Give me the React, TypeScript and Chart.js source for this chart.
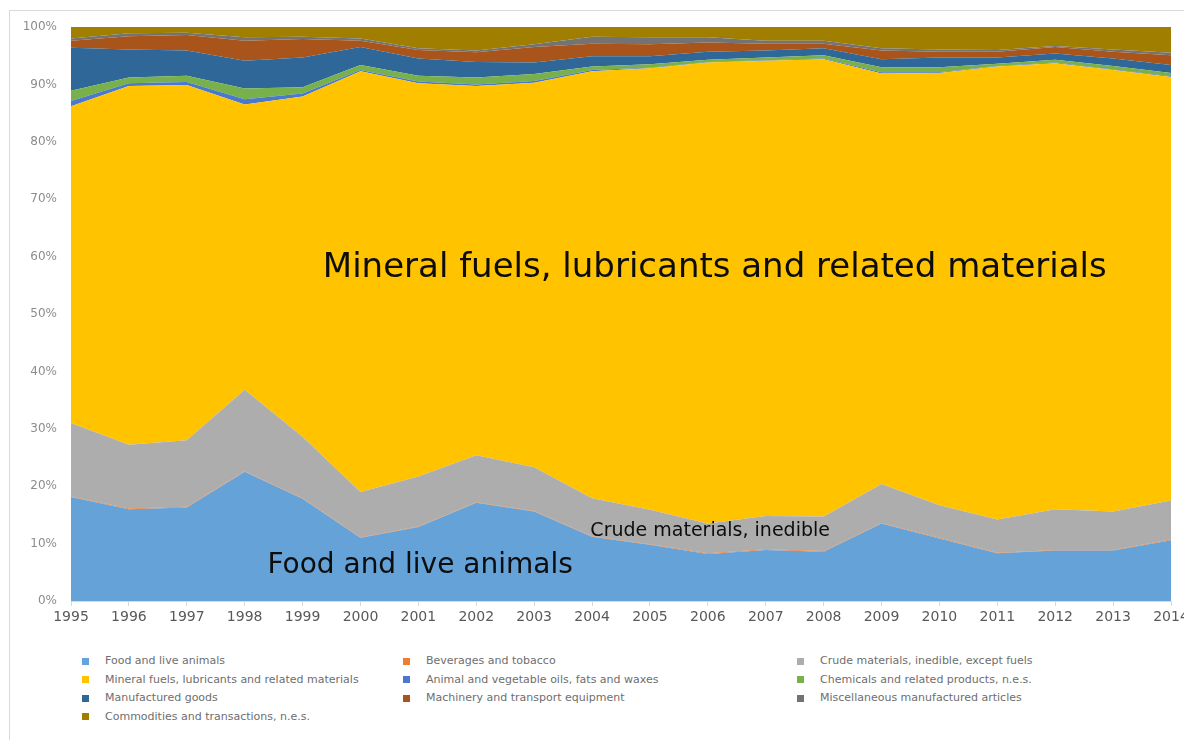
import { useEffect, useRef } from "react";
import { Chart, registerables } from "chart.js";

Chart.register(...registerables);

const years = ["1995", "1996", "1997", "1998", "1999", "2000", "2001", "2002", "2003", "2004", "2005", "2006", "2007", "2008", "2009", "2010", "2011", "2012", "2013", "2014"];

const seriesNames = [
  "Food and live animals",
  "Beverages and tobacco",
  "Crude materials, inedible, except fuels",
  "Mineral fuels, lubricants and related materials",
  "Animal and vegetable oils, fats and waxes",
  "Chemicals and related products, n.e.s.",
  "Manufactured goods",
  "Machinery and transport equipment",
  "Miscellaneous manufactured articles",
  "Commodities and transactions, n.e.s.",
];

const food = [18.1, 16.0, 16.3, 22.5, 17.8, 11.0, 12.9, 17.1, 15.6, 11.2, 9.8, 8.2, 8.9, 8.6, 13.5, 10.9, 8.3, 8.8, 8.8, 10.6];
const beverages = [0.1, 0.1, 0.1, 0.1, 0.1, 0.1, 0.1, 0.1, 0.1, 0.1, 0.1, 0.1, 0.1, 0.1, 0.1, 0.1, 0.1, 0.1, 0.1, 0.1];
const crude = [12.8, 11.1, 11.6, 14.2, 10.7, 7.9, 8.7, 8.2, 7.6, 6.6, 6.0, 5.2, 5.8, 6.0, 6.8, 5.7, 5.8, 7.1, 6.7, 6.8];
const mineral = [55.2, 62.5, 61.9, 49.7, 59.3, 73.3, 68.5, 64.3, 67.0, 74.4, 76.9, 80.3, 79.3, 79.7, 71.5, 75.3, 78.9, 77.7, 76.9, 73.8];
const oils = [0.9, 0.5, 0.5, 0.9, 0.5, 0.2, 0.3, 0.3, 0.3, 0.2, 0.1, 0.1, 0.1, 0.1, 0.2, 0.1, 0.1, 0.1, 0.1, 0.1];
const chemicals = [1.8, 1.0, 1.1, 1.9, 1.1, 0.9, 1.0, 1.2, 1.2, 0.6, 0.6, 0.4, 0.5, 0.6, 0.9, 0.9, 0.4, 0.5, 0.6, 0.6];
const manufactured = [7.5, 4.9, 4.4, 4.8, 5.2, 3.1, 3.0, 2.7, 2.0, 1.8, 1.4, 1.4, 1.2, 1.2, 1.4, 1.7, 1.1, 1.1, 1.3, 1.4];
const machinery = [1.2, 2.3, 2.7, 3.5, 3.2, 1.1, 1.5, 1.7, 2.7, 2.2, 2.1, 1.6, 1.2, 0.8, 1.5, 1.0, 1.0, 1.1, 1.2, 1.7];
const miscellaneous = [0.4, 0.5, 0.4, 0.6, 0.4, 0.4, 0.3, 0.3, 0.5, 1.2, 1.2, 0.9, 0.5, 0.5, 0.4, 0.4, 0.3, 0.2, 0.4, 0.4];
const commodities = [2.0, 1.1, 1.0, 1.8, 1.7, 2.0, 3.7, 4.1, 3.0, 1.7, 1.8, 1.8, 2.4, 2.4, 3.7, 3.9, 4.0, 3.3, 3.9, 4.5];

const seriesValues = [food, beverages, crude, mineral, oils, chemicals, manufactured, machinery, miscellaneous, commodities];

const seriesColors = ["#64A2D8", "#ED7D31", "#ADADAD", "#FFC300", "#4A78CC", "#78B14C", "#2E6798", "#A8541A", "#737373", "#A07F00"];

const areaLabels = [
  { text: "Mineral fuels, lubricants and related materials", xIndex: 11.12, yValue: 58.0, size: 34 },
  { text: "Food and live animals", xIndex: 6.03, yValue: 6.1, size: 28 },
  { text: "Crude materials, inedible", xIndex: 11.04, yValue: 12.2, size: 19 },
];

const FONT = "'DejaVu Sans', sans-serif";

const areaLabelPlugin = {
  id: "areaLabels",
  afterDatasetsDraw(chart: any) {
    const { ctx } = chart;
    const xs = chart.scales.x;
    const ys = chart.scales.y;
    ctx.save();
    ctx.fillStyle = "#0d0d0d";
    ctx.textAlign = "center";
    ctx.textBaseline = "middle";
    for (const l of areaLabels) {
      const x = xs.left + ((xs.right - xs.left) * l.xIndex) / (years.length - 1);
      const y = ys.getPixelForValue(l.yValue);
      ctx.font = `${l.size}px ${FONT}`;
      ctx.fillText(l.text, x, y);
    }
    ctx.restore();
  },
};

export default function App() {
  const canvasRef = useRef<HTMLCanvasElement | null>(null);

  useEffect(() => {
    if (!canvasRef.current) return;
    const chart = new Chart(canvasRef.current, {
      type: "line",
      data: {
        labels: years,
        datasets: seriesNames.map((name, i) => ({
          label: name,
          data: seriesValues[i],
          backgroundColor: seriesColors[i],
          borderColor: seriesColors[i],
          borderWidth: 0,
          pointRadius: 0,
          tension: 0,
          fill: i === 0 ? "origin" : "-1",
        })),
      },
      options: {
        animation: false,
        responsive: false,
        maintainAspectRatio: false,
        layout: { autoPadding: false, padding: { top: 27, right: 13, left: 0, bottom: 0 } },
        plugins: { legend: { display: false }, tooltip: { enabled: false } },
        scales: {
          x: {
            type: "category",
            offset: false,
            grid: { display: true, drawOnChartArea: false, drawTicks: true, tickLength: 5, color: "#d9d9d9" },
            border: { display: true, color: "#d9d9d9" },
            ticks: { color: "#595959", font: { family: FONT, size: 14 }, maxRotation: 0, autoSkip: false, padding: 3 },
            afterFit: (s: any) => {
              s.height = 39;
              s.paddingLeft = 0;
              s.paddingRight = 0;
            },
          },
          y: {
            stacked: true,
            min: 0,
            max: 100,
            ticks: {
              stepSize: 10,
              callback: (v: any) => `${v}%`,
              color: "#8c8c8c",
              font: { family: FONT, size: 12 },
              padding: 14,
            },
            grid: { display: false, drawTicks: false },
            border: { display: false },
            afterFit: (s: any) => {
              s.width = 71;
              s.paddingTop = 0;
              s.paddingBottom = 0;
            },
          },
        },
      },
      plugins: [areaLabelPlugin],
    } as any);
    return () => chart.destroy();
  }, []);

  return (
    <div style={{ position: "fixed", left: 0, top: 0, width: 1184, height: 740, overflow: "hidden", background: "#fff" }}>
      <div style={{ position: "absolute", left: 9, top: 10, width: 1200, height: 760, border: "1px solid #d9d9d9", boxSizing: "border-box" }} />
      <canvas ref={canvasRef} width={1184} height={640} style={{ position: "absolute", left: 0, top: 0 }} />
      <div
        style={{
          position: "absolute",
          left: 82,
          top: 652,
          display: "grid",
          gridTemplateColumns: "321px 394px 360px",
          fontFamily: FONT,
          fontSize: 11,
          lineHeight: "18.5px",
          color: "#6e6e6e",
        }}
      >
        {seriesNames.map((name, i) => (
          <div key={name} style={{ display: "flex", alignItems: "center", whiteSpace: "nowrap" }}>
            <span style={{ display: "inline-block", width: 7, height: 7, background: seriesColors[i], marginRight: 16 }} />
            <span>{name}</span>
          </div>
        ))}
      </div>
    </div>
  );
}
